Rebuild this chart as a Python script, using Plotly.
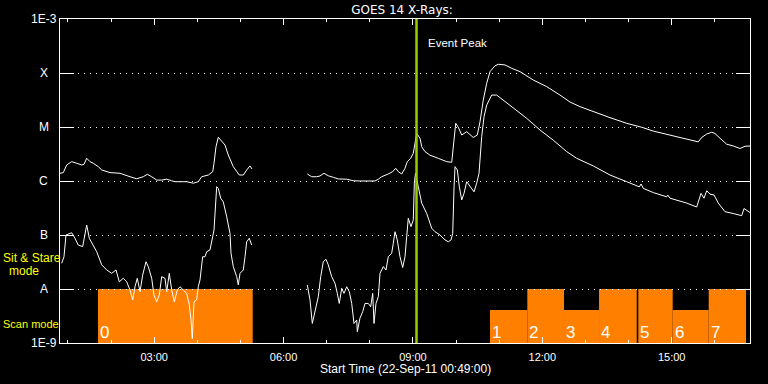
import numpy as np
import pandas as pd
import plotly.graph_objects as go

DAY = "2011-09-22"
START_TIME = "00:49"
END_TIME = "16:49"
EVENT_PEAK = "09:05"

# ---- GOES 14 long channel (1-8 A), hours of day / W m^-2 ----
long_h1 = [0.817, 0.893, 0.972, 1.088, 1.204, 1.320, 1.373, 1.436, 1.512, 1.589,
           1.705, 1.784, 1.976, 2.208, 2.440, 2.595, 2.748, 2.841, 2.943, 3.059,
           3.175, 3.291, 3.407, 3.483, 3.755, 3.908, 4.023, 4.102, 4.256, 4.358,
           4.388, 4.434, 4.487, 4.566, 4.643, 4.719, 4.835, 4.974, 5.067, 5.146,
           5.222, 5.269]
long_v1 = [1.39e-6, 1.43e-6, 1.98e-6, 2.28e-6, 2.13e-6, 1.98e-6, 2.04e-6, 2.63e-6, 2.28e-6, 2.13e-6,
           1.84e-6, 1.60e-6, 1.43e-6, 1.39e-6, 1.20e-6, 1.10e-6, 1.20e-6, 1.33e-6, 1.20e-6, 1.04e-6,
           1.04e-6, 1.08e-6, 1.01e-6, 0.97e-6, 0.97e-6, 0.91e-6, 0.97e-6, 1.20e-6, 1.29e-6, 1.49e-6,
           2.13e-6, 4.32e-6, 6.45e-6, 5.34e-6, 4.64e-6, 3.03e-6, 1.84e-6, 1.29e-6, 1.29e-6, 1.60e-6,
           1.90e-6, 1.67e-6]
long_h2 = [6.551, 6.653, 6.769, 6.846, 6.938, 7.038, 7.154, 7.270, 7.465, 7.618,
           7.773, 7.929, 8.121, 8.198, 8.276, 8.429, 8.531, 8.601, 8.661, 8.740,
           8.817, 8.870, 8.949, 9.009, 9.065, 9.088, 9.165, 9.204, 9.281, 9.397,
           9.589, 9.784, 9.900, 9.937, 9.993, 10.053, 10.132, 10.248, 10.400, 10.493,
           10.556, 10.632, 10.711, 10.788, 10.904, 10.980, 11.136, 11.291, 11.483, 11.792,
           12.102, 12.411, 12.643, 12.875, 13.183, 13.570, 13.958, 14.305, 14.574, 14.961,
           15.348, 15.617, 15.696, 15.812, 15.928, 16.004, 16.120, 16.276, 16.430, 16.585,
           16.701, 16.817]
long_v2 = [1.35e-6, 1.20e-6, 1.20e-6, 1.24e-6, 1.39e-6, 1.25e-6, 1.17e-6, 1.09e-6, 1.08e-6, 1.01e-6,
           1.00e-6, 1.01e-6, 1.00e-6, 1.08e-6, 1.20e-6, 1.35e-6, 1.49e-6, 1.72e-6, 1.49e-6, 1.35e-6,
           1.72e-6, 2.28e-6, 2.63e-6, 3.26e-6, 6.6e-6, 7.6e-6, 6.2e-6, 4.3e-6, 3.5e-6, 3.0e-6,
           2.63e-6, 2.28e-6, 2.22e-6, 4.3e-6, 1.17e-5, 0.99e-5, 7.1e-6, 8.2e-6, 6.4e-6, 7.1e-6,
           1.25e-5, 3.16e-5, 6.45e-5, 1.06e-4, 1.36e-4, 1.45e-4, 1.41e-4, 1.22e-4, 1.06e-4, 7.4e-5,
           5.6e-5, 3.9e-5, 2.9e-5, 2.38e-5, 1.92e-5, 1.49e-5, 1.17e-5, 0.99e-5, 8.4e-6, 7.0e-6,
           5.9e-6, 5.3e-6, 6.4e-6, 7.4e-6, 8.0e-6, 7.6e-6, 6.2e-6, 4.8e-6, 4.45e-6, 4.0e-6,
           4.4e-6, 4.45e-6]

# ---- GOES 14 short channel (0.5-4 A) ----
short_h1 = [0.856, 0.909, 0.956, 1.088, 1.164, 1.241, 1.343, 1.436, 1.496, 1.589,
            1.668, 1.784, 1.900, 2.016, 2.115, 2.192, 2.284, 2.363, 2.440, 2.502,
            2.556, 2.609, 2.672, 2.734, 2.811, 2.864, 2.943, 2.996, 3.059, 3.119,
            3.175, 3.251, 3.291, 3.351, 3.407, 3.467, 3.537, 3.599, 3.676, 3.755,
            3.815, 3.854, 3.884, 3.924, 3.986, 4.023, 4.063, 4.125, 4.179, 4.218,
            4.295, 4.348, 4.388, 4.450, 4.487, 4.543, 4.603, 4.682, 4.759, 4.782,
            4.835, 4.914, 4.951, 4.991, 5.067, 5.107, 5.146, 5.206, 5.262]
short_v1 = [2.99e-8, 3.96e-8, 1.0e-7, 1.10e-7, 8.7e-8, 6.5e-8, 6.1e-8, 1.53e-7, 8.7e-8, 6.5e-8,
            4.9e-8, 2.8e-8, 2.25e-8, 1.95e-8, 2.25e-8, 1.36e-8, 1.58e-8, 1.36e-8, 9.6e-9, 6.3e-9,
            1.10e-8, 1.58e-8, 8.9e-9, 1.82e-8, 3.2e-8, 2.6e-8, 1.58e-8, 7.7e-9, 5.8e-9, 7.7e-9,
            1.69e-8, 1.58e-8, 8.9e-9, 1.95e-8, 9.6e-9, 5.8e-9, 9.6e-9, 1.10e-8, 9.6e-9, 8.3e-9,
            5.1e-9, 2.7e-9, 1.2e-9, 5.8e-9, 6.3e-9, 1.10e-8, 1.47e-8, 3.96e-8, 3.96e-8, 4.9e-8,
            5.3e-8, 8.1e-8, 1.24e-7, 7.84e-7, 7.3e-7, 4.8e-7, 4.1e-7, 2.18e-7, 1.07e-7, 4.6e-8,
            2.6e-8, 1.69e-8, 1.19e-8, 1.95e-8, 2.25e-8, 3.96e-8, 7.5e-8, 8.7e-8, 6.5e-8]
short_h2 = [6.551, 6.614, 6.667, 6.730, 6.806, 6.862, 6.922, 6.985, 7.038, 7.117,
            7.193, 7.247, 7.293, 7.349, 7.402, 7.465, 7.525, 7.581, 7.634, 7.697,
            7.711, 7.773, 7.836, 7.889, 7.966, 8.021, 8.068, 8.098, 8.144, 8.198,
            8.237, 8.314, 8.376, 8.429, 8.508, 8.545, 8.585, 8.638, 8.700, 8.763,
            8.817, 8.856, 8.893, 8.956, 9.009, 9.033, 9.060, 9.125, 9.204, 9.320,
            9.436, 9.513, 9.629, 9.745, 9.821, 9.884, 9.923, 9.954, 9.977, 10.030,
            10.077, 10.132, 10.185, 10.248, 10.324, 10.417, 10.479, 10.533, 10.595, 10.649,
            10.711, 10.827, 10.943, 11.096, 11.328, 11.638, 11.947, 12.255, 12.566, 12.798,
            13.183, 13.570, 13.958, 14.250, 14.290, 14.343, 14.575, 14.885, 14.908, 14.962,
            15.349, 15.581, 15.618, 15.681, 15.750, 15.813, 15.889, 15.982, 16.081, 16.237,
            16.429, 16.624, 16.678, 16.817]
short_v2 = [1.19e-8, 6.3e-9, 2.3e-9, 4.1e-9, 7.2e-9, 1.69e-8, 3.2e-8, 3.55e-8, 2.8e-8, 1.69e-8,
            1.28e-8, 8.3e-9, 5.4e-9, 1.03e-8, 8.3e-9, 1.10e-8, 8.9e-9, 5.4e-9, 2.3e-9, 2.67e-9,
            1.62e-9, 2.9e-9, 3.8e-9, 5.4e-9, 5.4e-9, 4.7e-9, 8.3e-9, 2.3e-9, 5.4e-9, 7.2e-9,
            1.95e-8, 2.6e-8, 2.25e-8, 3.96e-8, 4.6e-8, 7.0e-8, 1.15e-7, 8.1e-8, 3.96e-8, 2.5e-8,
            3.96e-8, 9.3e-8, 2.04e-7, 1.43e-7, 1.90e-7, 9.1e-7, 1.39e-6, 7.8e-7, 3.9e-7, 2.5e-7,
            1.33e-7, 1.15e-7, 1.0e-7, 8.1e-8, 7.5e-8, 8.1e-8, 1.07e-7, 7.8e-7, 1.84e-6, 1.60e-6,
            7.8e-7, 4.45e-7, 5.9e-7, 0.97e-6, 7.8e-7, 6.3e-7, 9.1e-7, 1.39e-6, 6.6e-6, 1.55e-5,
            2.55e-5, 3.9e-5, 3.9e-5, 3.16e-5, 2.22e-5, 1.45e-5, 8.8e-6, 5.7e-6, 3.5e-6, 2.63e-6,
            1.90e-6, 1.29e-6, 0.97e-6, 7.8e-7, 8.8e-7, 7.3e-7, 6.1e-7, 5.1e-7, 5.5e-7, 4.8e-7,
            3.9e-7, 3.3e-7, 4.1e-7, 5.9e-7, 4.8e-7, 6.6e-7, 5.7e-7, 5.5e-7, 3.9e-7, 2.7e-7,
            2.5e-7, 2.28e-7, 3.1e-7, 2.6e-7]

# ---- instrument mode intervals (orange) ----
scan_labels = ["0", "1", "2", "3", "4", "5", "6", "7"]
scan_start = [1.698, 10.788, 11.653, 12.504, 13.316, 14.227, 15.024, 15.859]
scan_end = [5.285, 11.653, 12.504, 13.316, 14.190, 15.024, 15.859, 16.724]
scan_top = [1e-8, 4.1e-9, 1e-8, 4.1e-9, 1e-8, 1e-8, 4.1e-9, 1e-8]

# ---- axes ----
y_tickvals = [1e-9, 1e-8, 1e-7, 1e-6, 1e-5, 1e-4, 1e-3]
y_ticktext = ["1E-9", "A", "B", "C", "M", "X", "1E-3"]
x_ticktext = ["03:00", "06:00", "09:00", "12:00", "15:00"]

base = pd.Timestamp(DAY)


def to_time(hours):
    return [base + pd.Timedelta(hours=h) for h in hours]


def clock(s):
    return pd.Timestamp(f"{DAY} {s}")


fig = go.Figure()

for h, v in [(long_h1, long_v1), (long_h2, long_v2), (short_h1, short_v1), (short_h2, short_v2)]:
    fig.add_trace(go.Scatter(x=to_time(h), y=v, mode="lines",
                             line=dict(color="white", width=1), hoverinfo="skip"))

ORANGE = "#ff8000"
for s, e, top in zip(scan_start, scan_end, scan_top):
    fig.add_shape(type="rect", xref="x", yref="y",
                  x0=base + pd.Timedelta(hours=s), x1=base + pd.Timedelta(hours=e),
                  y0=y_tickvals[0], y1=top, fillcolor=ORANGE, line=dict(width=0), layer="below")

annotations = []
for s, lab in zip(scan_start, scan_labels):
    annotations.append(dict(xref="x", yref="paper", x=base + pd.Timedelta(hours=s), y=0.031,
                            xanchor="left", yanchor="middle", text=lab, showarrow=False,
                            font=dict(family="Liberation Sans", size=17, color="white")))

# event peak line
peak = clock(EVENT_PEAK)
fig.add_shape(type="line", xref="x", yref="paper", x0=peak, x1=peak, y0=0, y1=1,
              line=dict(color="#99cc00", width=2.5), layer="above")
annotations.append(dict(xref="x", yref="paper", x=peak, xshift=9, y=0.926, xanchor="left",
                        yanchor="middle", text="Event Peak", showarrow=False,
                        font=dict(family="Liberation Sans", size=11.5, color="white")))

# y labels (centered like the IDL plot)
for v, t in zip(y_tickvals, y_ticktext):
    annotations.append(dict(xref="paper", yref="y", x=-0.0232, y=np.log10(v), xanchor="center",
                            yanchor="middle", text=t, showarrow=False,
                            font=dict(family="Liberation Sans", size=12, color="white")))

YEL = "#ffff00"
for txt, xp, anchor, yp, fs in [("Sit & Stare", 1, "left", 258, 12),
                                ("mode", 24.3, "center", 271, 12),
                                ("Scan mode", 1, "left", 324, 11)]:
    annotations.append(dict(xref="paper", yref="paper", x=(xp - 60) / 690, y=(343 - yp) / 324,
                            xanchor=anchor, yanchor="middle", text=txt, showarrow=False,
                            font=dict(family="Liberation Sans", size=fs, color=YEL)))

annotations.append(dict(xref="paper", yref="paper", x=0.5, y=-0.0793, xanchor="center",
                        yanchor="middle", text=f"Start Time (22-Sep-11 {START_TIME}:00)",
                        showarrow=False, font=dict(family="Liberation Sans", size=12, color="white")))

fig.update_layout(
    width=768, height=384,
    margin=dict(l=60, r=18, t=19, b=41),
    paper_bgcolor="black", plot_bgcolor="black",
    showlegend=False,
    font=dict(family="Liberation Sans", size=11, color="white"),
    title=dict(text="GOES 14 X-Rays:", x=402 / 768, xref="container", xanchor="center",
               y=1 - 9.7 / 384, yanchor="middle",
               font=dict(family="DejaVu Sans", size=12, color="white")),
    annotations=annotations,
)

fig.update_xaxes(
    type="date", range=[clock(START_TIME), clock(END_TIME)],
    showline=True, linecolor="white", linewidth=1, mirror="allticks",
    ticks="inside", ticklen=6, tickcolor="white", tickwidth=1,
    tickvals=[clock(t) for t in x_ticktext], ticktext=x_ticktext,
    tickfont=dict(family="Liberation Sans", size=11, color="white"),
    ticklabelstandoff=4,
    minor=dict(ticks="inside", ticklen=3, tickcolor="white", dtick=3600000,
               tick0=f"{DAY} 00:00", showgrid=False),
    showgrid=False, zeroline=False,
)
fig.update_yaxes(
    type="log", range=[-9, -3],
    showline=True, linecolor="white", linewidth=1, mirror="allticks",
    ticks="inside", ticklen=14, tickcolor="white", tickwidth=1,
    tickvals=y_tickvals, showticklabels=False,
    showgrid=True, gridcolor="white", gridwidth=1, griddash="1px,5px",
    zeroline=False,
)

fig.write_html("out.html")
